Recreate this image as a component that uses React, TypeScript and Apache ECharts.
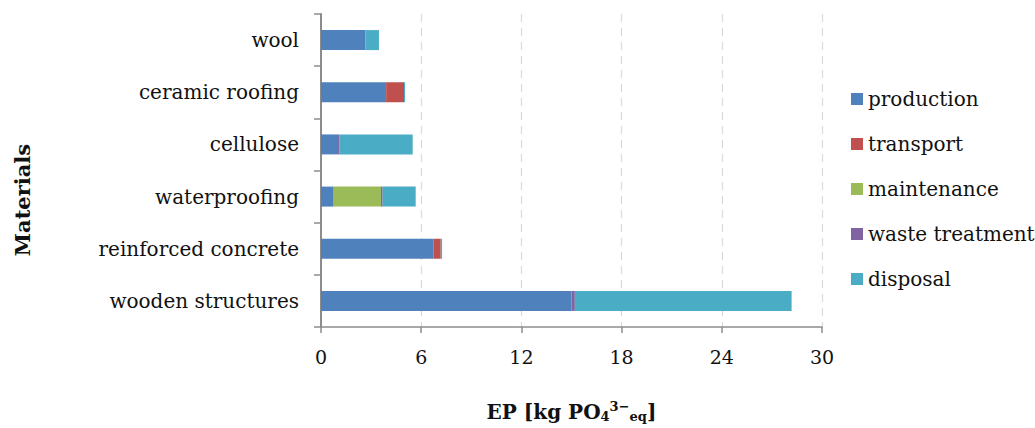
import React, { useEffect, useRef } from "react";
import * as echarts from "echarts";

const categories = [
  "wooden structures",
  "reinforced concrete",
  "waterproofing",
  "cellulose",
  "ceramic roofing",
  "wool",
];
const production = [15.0, 6.73, 0.76, 1.02, 3.9, 2.65];
const transport = [0.0, 0.44, 0.0, 0.0, 1.07, 0.0];
const maintenance = [0.0, 0.0, 2.83, 0.0, 0.0, 0.0];
const wasteTreatment = [0.2, 0.0, 0.1, 0.07, 0.0, 0.0];
const disposal = [12.98, 0.08, 1.98, 4.4, 0.06, 0.82];
const xTicks = [0, 6, 12, 18, 24, 30];

const seriesNames = ["production", "transport", "maintenance", "waste treatment", "disposal"];
const seriesColors = ["#4F81BD", "#C0504D", "#9BBB59", "#8064A2", "#4BACC6"];
const seriesData = [production, transport, maintenance, wasteTreatment, disposal];

const FONT = "DejaVu Serif";

export default function App() {
  const ref = useRef<HTMLDivElement>(null);
  useEffect(() => {
    if (!ref.current) return;
    const chart = echarts.init(ref.current, undefined, { renderer: "svg" });
    chart.setOption({
      animation: false,
      backgroundColor: "#ffffff",
      textStyle: { fontFamily: FONT, color: "#000" },
      grid: { left: 321, right: 213, top: 14, bottom: 101, containLabel: false },
      legend: {
        orient: "vertical",
        left: 846,
        top: 84,
        itemWidth: 12,
        itemHeight: 12,
        itemGap: 25,
        icon: "rect",
        textStyle: { fontFamily: FONT, fontSize: 20, color: "#111" },
        data: seriesNames,
      },
      graphic: [
        {
          type: "text",
          x: 22,
          y: 200,
          rotation: Math.PI / 2,
          style: {
            text: "Materials",
            fontFamily: FONT,
            fontSize: 21,
            fontWeight: "bold",
            fill: "#111",
            align: "center",
            verticalAlign: "middle",
          },
        },
      ],
      xAxis: {
        type: "value",
        min: xTicks[0],
        max: xTicks[xTicks.length - 1],
        interval: 6,
        axisLine: { show: true, lineStyle: { color: "#8c8c8c", width: 1.5 } },
        axisTick: { show: true, length: 6, lineStyle: { color: "#8c8c8c", width: 1.5 } },
        axisLabel: { fontFamily: FONT, fontSize: 19, color: "#111", margin: 20 },
        splitLine: { show: true, lineStyle: { color: "#d9d9d9", type: [8, 6], width: 1.2 } },
        name: "{b|EP [kg PO}{sub|4}{sup|3−}{sub|eq}{b|]}",
        nameLocation: "middle",
        nameGap: 73,
        nameTextStyle: {
          rich: {
            b: { fontFamily: FONT, fontSize: 20, fontWeight: "bold", color: "#111" },
            sub: { fontFamily: FONT, fontSize: 13, fontWeight: "bold", color: "#111", padding: [10, 0, 0, 0] },
            sup: { fontFamily: FONT, fontSize: 13, fontWeight: "bold", color: "#111", padding: [0, 0, 10, 0] },
          },
        },
      },
      yAxis: {
        type: "category",
        data: categories,
        axisLine: { show: true, lineStyle: { color: "#8c8c8c", width: 2 } },
        axisTick: { show: true, length: 7, alignWithLabel: false, lineStyle: { color: "#8c8c8c", width: 1.5 } },
        axisLabel: { fontFamily: FONT, fontSize: 20, color: "#111", margin: 22 },
        splitLine: { show: false },
      },
      series: seriesNames.map((name, i) => ({
        name,
        type: "bar",
        stack: "total",
        barWidth: 20,
        data: seriesData[i],
        itemStyle: { color: seriesColors[i] },
      })),
    });
    return () => chart.dispose();
  }, []);
  return (
    <div
      ref={ref}
      style={{ position: "fixed", left: 0, top: 0, width: 1035, height: 428 }}
    />
  );
}
